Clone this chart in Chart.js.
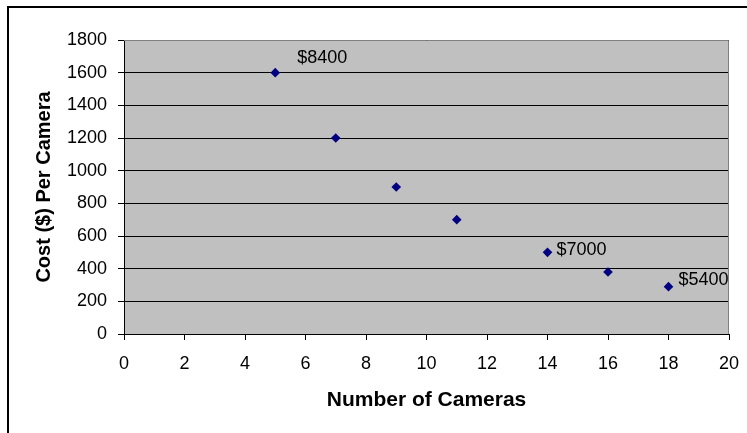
<!DOCTYPE html>
<html>
<head>
<meta charset="utf-8">
<script src="https://cdn.jsdelivr.net/npm/chart.js@4"></script>
<style>
  html, body { margin: 0; padding: 0; background: #fff; }
  #wrap { position: relative; width: 747px; height: 433px; }
  canvas { display: block; }
</style>
</head>
<body>
<div id="wrap"><canvas id="c" width="747" height="433"></canvas></div>
<script>
// ---- data ----
const cameras = [5, 7, 9, 11, 14, 16, 18];
const costPerCamera = [1600, 1200, 900, 700, 500, 380, 290];
const pointLabels = ['$8400', '', '', '', '$7000', '', '$5400'];
const xTitle = 'Number of Cameras';
const yTitle = 'Cost ($) Per Camera';

const FONT = '"Liberation Sans", Arial, sans-serif';

// label offsets (pixels, relative to point) - layout only
const labelOffsets = [[22, -15], null, null, null, [9, -2], null, [10, -7]];

const chartFrame = {
  id: 'chartFrame',
  beforeDraw(chart) {
    const ctx = chart.ctx;
    ctx.save();
    ctx.fillStyle = '#fff';
    ctx.fillRect(0, 0, chart.width, chart.height);
    ctx.strokeStyle = '#000';
    ctx.lineWidth = 2;
    ctx.beginPath();
    ctx.moveTo(8, 433);
    ctx.lineTo(8, 7);
    ctx.lineTo(747, 7);
    ctx.stroke();
    const a = chart.chartArea;
    ctx.fillStyle = '#C0C0C0';
    ctx.fillRect(a.left, a.top, a.right - a.left, a.bottom - a.top);
    ctx.restore();
  },
  afterDraw(chart) {
    const ctx = chart.ctx;
    const a = chart.chartArea;
    ctx.save();
    ctx.strokeStyle = '#808080';
    ctx.lineWidth = 1;
    ctx.beginPath();
    ctx.moveTo(a.left, a.top + 0.5);
    ctx.lineTo(a.right - 0.5, a.top + 0.5);
    ctx.lineTo(a.right - 0.5, a.bottom);
    ctx.stroke();
    ctx.restore();
  }
};

const labelPlugin = {
  id: 'pointLabelsPlugin',
  afterDatasetsDraw(chart) {
    const ctx = chart.ctx;
    const meta = chart.getDatasetMeta(0);
    ctx.save();
    ctx.font = '18px ' + FONT;
    ctx.fillStyle = '#000';
    ctx.textAlign = 'left';
    ctx.textBaseline = 'middle';
    meta.data.forEach((pt, i) => {
      const txt = pointLabels[i];
      if (!txt) return;
      const off = labelOffsets[i] || [10, 0];
      ctx.fillText(txt, pt.x + off[0], pt.y + off[1]);
    });
    ctx.restore();
  }
};

const plain = (v) => String(v);

new Chart(document.getElementById('c'), {
  type: 'scatter',
  data: {
    datasets: [{
      data: cameras.map((x, i) => ({ x: x, y: costPerCamera[i] })),
      pointStyle: 'rectRot',
      pointRadius: 4.8,
      pointHoverRadius: 4.8,
      backgroundColor: '#000080',
      borderColor: '#000080',
      borderWidth: 0
    }]
  },
  options: {
    responsive: false,
    animation: false,
    devicePixelRatio: 1,
    layout: { padding: { left: 0, top: 40, right: 18, bottom: 0 } },
    plugins: { legend: { display: false }, tooltip: { enabled: false } },
    scales: {
      x: {
        type: 'linear',
        min: 0, max: 20,
        ticks: { stepSize: 2, color: '#000', font: { family: FONT, size: 18 }, padding: 13, maxRotation: 0, callback: plain },
        grid: { drawOnChartArea: false, drawTicks: true, tickLength: 6, color: '#000', tickColor: '#000' },
        border: { display: true, color: '#000', width: 1 },
        title: { display: true, text: xTitle, color: '#000', font: { family: FONT, size: 21, weight: 'bold' }, padding: { top: 0, bottom: 20 } },
        afterFit(scale) { scale.height = 99; scale.paddingRight = 0; scale.paddingLeft = 0; }
      },
      y: {
        type: 'linear',
        min: 0, max: 1800,
        ticks: { stepSize: 200, color: '#000', font: { family: FONT, size: 18 }, padding: 11, callback: plain },
        grid: { drawOnChartArea: true, drawTicks: true, tickLength: 6, color: '#000', tickColor: '#000' },
        border: { display: true, color: '#000', width: 1 },
        title: { display: true, text: yTitle, color: '#000', font: { family: FONT, size: 20, weight: 'bold' }, padding: { top: 32, bottom: 0 } },
        afterFit(scale) { scale.width = 124; scale.paddingTop = 0; scale.paddingBottom = 0; }
      }
    }
  },
  plugins: [chartFrame, labelPlugin]
});
</script>
</body>
</html>
